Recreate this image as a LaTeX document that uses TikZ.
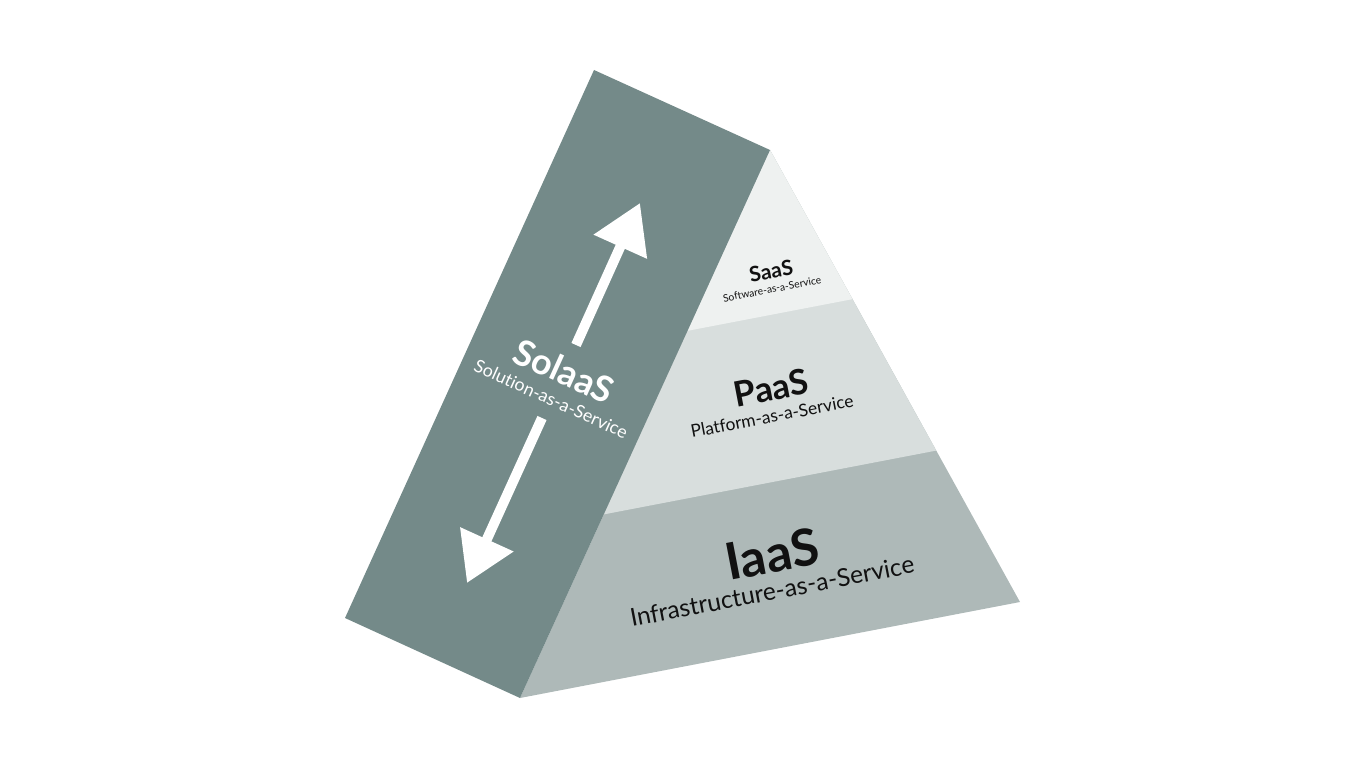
\documentclass[tikz,border=0pt]{standalone}
\usepackage{fontspec}
\setmainfont{Lato}[Ligatures=NoCommon]
\usetikzlibrary{calc}
\usetikzlibrary{arrows.meta}

\definecolor{sidegray}{HTML}{748A89}
\definecolor{saasgray}{HTML}{EEF1F0}
\definecolor{paasgray}{HTML}{D8DEDD}
\definecolor{iaasgray}{HTML}{AEB9B8}
\definecolor{inkblack}{HTML}{111111}

\tikzset{
  big/.style={font=\bfseries\fontsize{#1}{#1}\selectfont, inner sep=0pt},
  small/.style={font=\fontsize{#1}{#1}\selectfont, inner sep=0pt},
  updown/.style={draw=white, line width=10pt, -{Triangle[length=48pt,width=56pt]}}
}

\begin{document}
\begin{tikzpicture}[x=1pt,y=-1pt]
\useasboundingbox (0,0) rectangle (1366,768);
\coordinate (TL) at (594,70);
\coordinate (T) at (770,150);
\coordinate (BL) at (345,618);
\coordinate (B) at (520,698);
\coordinate (R) at (1020,602);
% pyramid, layered from the base up
\fill [iaasgray] (T) -- (R) -- (B) -- cycle;
\fill [paasgray] (T) -- ($(T)!.665!(R)$) -- ($(T)!.665!(B)$) -- cycle;
\fill [saasgray] (T) -- ($(T)!.33!(R)$) -- ($(T)!.33!(B)$) -- cycle;
% side face
\fill [sidegray] (TL) -- (T) -- (B) -- (BL) -- cycle;
% arrows
\coordinate (U0) at (576,345);
\coordinate (U1) at (640,203);
\coordinate (D0) at (542,418);
\coordinate (D1) at (467,583);
\draw [updown] (U0) -- (U1);
\draw [updown] (D0) -- (D1);
% labels
\node (Sol) at (564,371) [big=36, rotate=-24.4, text=white] {SolaaS};
\node (Sols) at (551,399) [small=17.8, rotate=-24.4, text=white] {Solution-as-a-Service};
\node (S) at (771,271) [big=21, rotate=10.9, text=inkblack] {SaaS};
\node (Ss) at (772,289) [small=10.3, rotate=10.9, text=inkblack] {Software-as-a-Service};
\node (P) at (771,388) [big=35, rotate=10.9, text=inkblack] {PaaS};
\node (Ps) at (772,416) [small=17.4, rotate=10.9, text=inkblack] {Platform-as-a-Service};
\node (I) at (772,554) [big=51, rotate=10.9, text=inkblack] {IaaS};
\node (Is) at (772,591) [small=24.6, rotate=10.9, text=inkblack] {Infrastructure-as-a-Service};
\end{tikzpicture}
\end{document}
